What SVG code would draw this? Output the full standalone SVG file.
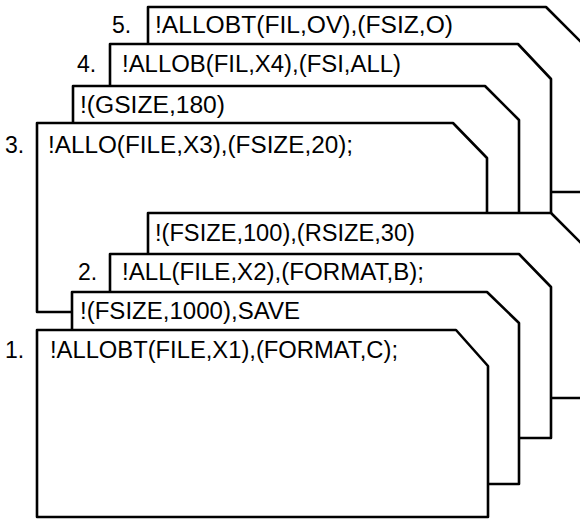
<svg xmlns="http://www.w3.org/2000/svg" width="580" height="520" viewBox="0 0 580 520">
<style>
.card{fill:#fff;stroke:#000;stroke-width:2.6;stroke-linejoin:round}
text{font-family:"Liberation Sans",Arial,sans-serif;font-size:23px;fill:#000}
</style>
<rect width="580" height="520" fill="#fff"/>
<g id="card5">
<path class="card" d="M148,192 L148,7 L546,7 L582,43 L582,192 Z"/>
<text x="112" y="33">5.</text>
<text x="155" y="33" textLength="298" lengthAdjust="spacingAndGlyphs">!ALLOBT(FIL,OV),(FSIZ,O)</text>
</g>
<g id="card4">
<path class="card" d="M110,240 L110,44 L518,44 L551,79 L551,240 Z"/>
<text x="77" y="72">4.</text>
<text x="122" y="72" textLength="279" lengthAdjust="spacingAndGlyphs">!ALLOB(FIL,X4),(FSI,ALL)</text>
</g>
<g id="card-gsize">
<path class="card" d="M73,260 L73,86 L485,86 L519,120 L519,260 Z"/>
<text x="80" y="113" textLength="145" lengthAdjust="spacingAndGlyphs">!(GSIZE,180)</text>
</g>
<g id="card3">
<path class="card" d="M37,312 L37,123 L453,123 L487,158 L487,312 Z"/>
<text x="5" y="153">3.</text>
<text x="48" y="153" textLength="305" lengthAdjust="spacingAndGlyphs">!ALLO(FILE,X3),(FSIZE,20);</text>
</g>
<g id="card-fsize100">
<path class="card" d="M148,398 L148,213 L551,213 L586,248 L586,398 Z"/>
<text x="155" y="241" textLength="260" lengthAdjust="spacingAndGlyphs">!(FSIZE,100),(RSIZE,30)</text>
</g>
<g id="card2">
<path class="card" d="M110,438 L110,254 L519,254 L551,287 L551,438 Z"/>
<text x="78" y="280">2.</text>
<text x="122" y="280" textLength="302" lengthAdjust="spacingAndGlyphs">!ALL(FILE,X2),(FORMAT,B);</text>
</g>
<g id="card-fsize1000">
<path class="card" d="M72,484 L72,292 L487,292 L519,323 L519,484 Z"/>
<text x="80" y="319" textLength="220" lengthAdjust="spacingAndGlyphs">!(FSIZE,1000),SAVE</text>
</g>
<g id="card1">
<path class="card" d="M37,517 L37,330 L456,330 L488,366 L488,517 Z"/>
<text x="5" y="358">1.</text>
<text x="50" y="358" textLength="348" lengthAdjust="spacingAndGlyphs">!ALLOBT(FILE,X1),(FORMAT,C);</text>
</g>
</svg>
